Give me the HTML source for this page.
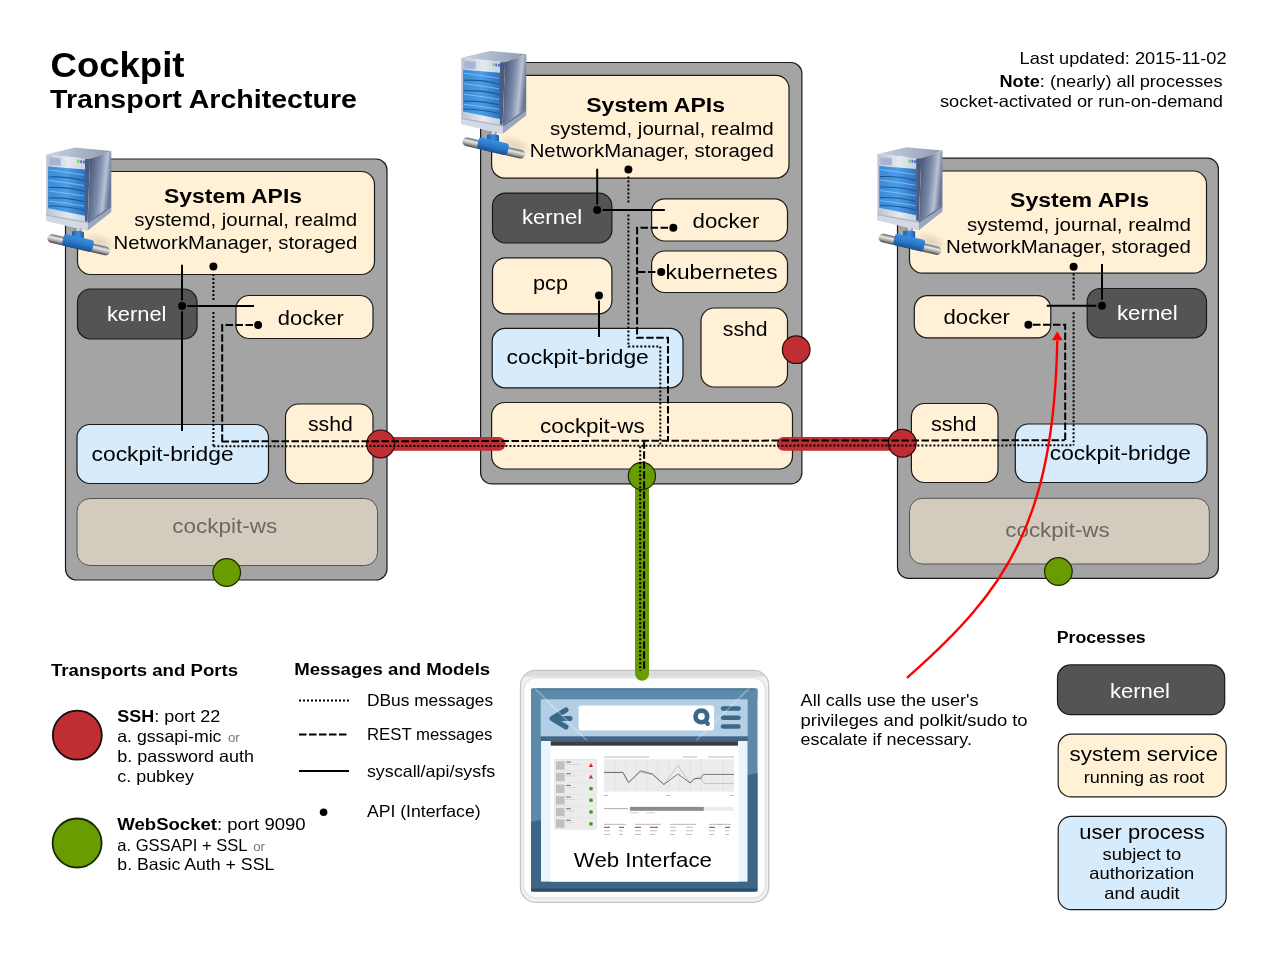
<!DOCTYPE html>
<html><head><meta charset="utf-8">
<style>
html,body{margin:0;padding:0;background:#fff;width:1280px;height:960px;overflow:hidden}
svg{display:block;will-change:transform}
text{font-family:"Liberation Sans",sans-serif;fill:#000}
.b{font-weight:bold}
.box{stroke:#1a1a1a;stroke-width:1.2}
.gray{fill:#a4a4a4}
.cream{fill:#fff0d6}
.blue{fill:#d6ebfc}
.dark{fill:#545454}
.beige{fill:#d3cbbe;stroke:#555}
.sl{stroke:#000;stroke-width:2;fill:none}
.dl{stroke:#000;stroke-width:2;fill:none;stroke-dasharray:7.5 2.5}
.ol{stroke:#000;stroke-width:2;fill:none;stroke-dasharray:2 2}
</style></head><body>
<svg width="1280" height="960" viewBox="0 0 1280 960">
<defs>
<linearGradient id="srvFront" x1="0" y1="0" x2="1" y2="0"><stop offset="0" stop-color="#3b8ad6"/><stop offset="0.5" stop-color="#4a9de6"/><stop offset="1" stop-color="#2c72c0"/></linearGradient>
<linearGradient id="srvSide" x1="0" y1="0" x2="1" y2="0.3"><stop offset="0" stop-color="#3a4868"/><stop offset="0.55" stop-color="#7d8cab"/><stop offset="0.8" stop-color="#b8c2d4"/><stop offset="1" stop-color="#6a7896"/></linearGradient>
<linearGradient id="srvTop" x1="0" y1="0" x2="1" y2="0"><stop offset="0" stop-color="#c9d3e0"/><stop offset="1" stop-color="#8d9bb0"/></linearGradient>
<linearGradient id="pipe" x1="0" y1="0" x2="0" y2="1"><stop offset="0" stop-color="#666"/><stop offset="0.35" stop-color="#e8e8e8"/><stop offset="0.7" stop-color="#a0a0a0"/><stop offset="1" stop-color="#444"/></linearGradient>
<radialGradient id="shadowG"><stop offset="0" stop-color="#000" stop-opacity="0.12"/><stop offset="1" stop-color="#000" stop-opacity="0"/></radialGradient>
<linearGradient id="srvFrontPanel" x1="0" y1="0" x2="1" y2="0"><stop offset="0" stop-color="#b9c3d2"/><stop offset="0.5" stop-color="#e6eaf0"/><stop offset="1" stop-color="#c0c8d6"/></linearGradient>
<linearGradient id="pipeV" x1="0" y1="0" x2="1" y2="0"><stop offset="0" stop-color="#777"/><stop offset="0.5" stop-color="#eee"/><stop offset="1" stop-color="#888"/></linearGradient>
<linearGradient id="blueV" x1="0" y1="0" x2="1" y2="0"><stop offset="0" stop-color="#1d5fa8"/><stop offset="0.5" stop-color="#3b8de0"/><stop offset="1" stop-color="#1e5ea6"/></linearGradient>
<linearGradient id="blueH" x1="0" y1="0" x2="0" y2="1"><stop offset="0" stop-color="#3a8ee0"/><stop offset="0.5" stop-color="#2c78c8"/><stop offset="1" stop-color="#1a5294"/></linearGradient>
<g id="server">
  <ellipse cx="60" cy="100" rx="18" ry="9" fill="url(#shadowG)" transform="rotate(20 60 100)"/>
  <!-- top -->
  <path d="M6.25 12.5 L35 5.6 L71.25 9 L50 16.9 Z" fill="url(#srvTop)"/>
  <!-- side -->
  <path d="M50 16.9 L71.25 9 L71.25 64 L47.5 80 Z" fill="url(#srvSide)"/>
  <path d="M47.5 80 L71.25 64 L71.25 70 L47.5 88.75 Z" fill="#9aa6bc"/>
  <path d="M47.5 80 L71.25 64 L71.25 65.2 L47.5 81.5 Z" fill="#5d6a86"/>
  <!-- front -->
  <path d="M6.25 12.5 L50 16.9 L47.5 88.75 L6.25 78.75 Z" fill="url(#srvFrontPanel)"/>
  <path d="M9.4 15.6 L20.6 16.4 L20.6 23.75 L9.4 23.1 Z" fill="#a9b3d6"/>
  <rect x="37.5" y="18" width="1.8" height="2.8" fill="#4cd64c"/><rect x="40.3" y="18.3" width="1.8" height="2.8" fill="#5566cc"/><rect x="43" y="18.6" width="1.8" height="2.8" fill="#5566cc"/>
  <path d="M8.1 24.4 L45 27.5 L45 73.75 L8.1 66.25 Z" fill="url(#srvFront)"/>
  <g stroke="#1d5a95" stroke-width="1.1" fill="none">
    <path d="M8.5 35 Q26 34 45 39"/><path d="M8.5 45.5 Q26 44.5 45 49.5"/><path d="M8.5 56 Q26 55 45 60"/><path d="M8.5 64 Q26 63.5 45 68.5"/>
  </g>
  <g stroke="#9fd0f8" stroke-width="0.8" fill="none" opacity="0.8">
    <path d="M9 28 Q26 30 44 33"/><path d="M9 38.5 Q26 40.5 44 43.5"/><path d="M9 49 Q26 51 44 54"/><path d="M9 59 Q26 61 44 64"/>
  </g>
  <path d="M6.25 72.5 L47.5 80 L47.5 88.75 L6.25 78.75 Z" fill="#d3d9e4"/>
  <path d="M6.25 72.5 L47.5 80 L47.5 81.2 L6.25 73.7 Z" fill="#aab4c6"/>
  <path d="M45 17 L50 16.9 L47.5 80 L45 79 Z" fill="#1f3566" opacity="0.75"/>
  <!-- pipe -->
  <g transform="rotate(13.1 9.4 96)"><rect x="7.5" y="91.6" width="64" height="8.6" rx="4.3" fill="url(#pipe)"/></g>
  <rect x="34.5" y="86.5" width="7" height="5" fill="url(#pipeV)"/>
  <path d="M32 89.5 Q38 88 44 90 L44 100 L32 98 Z" fill="url(#blueV)"/>
  <g transform="rotate(13.1 38 101)"><rect x="22.5" y="95" width="31" height="12" rx="3" fill="url(#blueH)"/></g>
</g>
</defs>

<!-- Title -->
<text x="50.5" y="76.5" class="b" font-size="35.6" textLength="134" lengthAdjust="spacingAndGlyphs">Cockpit</text>
<text x="50" y="108.1" class="b" font-size="25.1" textLength="307" lengthAdjust="spacingAndGlyphs">Transport Architecture</text>

<!-- top right note -->
<text x="1226.6" y="64" font-size="16.5" text-anchor="end" textLength="207" lengthAdjust="spacingAndGlyphs">Last updated: 2015-11-02</text>
<text x="999.5" y="87" font-size="16.5" textLength="223" lengthAdjust="spacingAndGlyphs"><tspan class="b">Note</tspan>: (nearly) all processes</text>
<text x="940" y="106.6" font-size="16.5" textLength="283" lengthAdjust="spacingAndGlyphs">socket-activated or run-on-demand</text>


<!-- ================= LEFT SERVER ================= -->
<rect x="65.5" y="159" width="321.5" height="421" rx="11" class="box gray"/>
<rect x="77.5" y="171.5" width="297" height="103" rx="13" class="box cream"/>
<text x="164" y="203" class="b" font-size="20" textLength="138" lengthAdjust="spacingAndGlyphs">System APIs</text>
<text x="134.2" y="226" font-size="18.5" textLength="223" lengthAdjust="spacingAndGlyphs">systemd, journal, realmd</text>
<text x="113.6" y="248.6" font-size="18.5" textLength="243.7" lengthAdjust="spacingAndGlyphs">NetworkManager, storaged</text>
<rect x="77.5" y="289" width="119.5" height="50" rx="13" class="box dark"/>
<text x="106.9" y="321" font-size="20.5" fill="#fff" style="fill:#fff" textLength="59.6" lengthAdjust="spacingAndGlyphs">kernel</text>
<rect x="236" y="295.5" width="137" height="43" rx="13" class="box cream"/>
<text x="277.8" y="325" font-size="20.5" textLength="66" lengthAdjust="spacingAndGlyphs">docker</text>
<rect x="77" y="424.5" width="191.5" height="59" rx="13" class="box blue"/>
<text x="91.6" y="460.5" font-size="20.5" textLength="142" lengthAdjust="spacingAndGlyphs">cockpit-bridge</text>
<rect x="285.5" y="404" width="87.5" height="79.5" rx="13" class="box cream"/>
<text x="308" y="431" font-size="20.5" textLength="44.8" lengthAdjust="spacingAndGlyphs">sshd</text>
<rect x="77" y="498.5" width="300.5" height="67" rx="13" class="beige" stroke-width="1"/>
<text x="172.3" y="532.7" font-size="20.5" style="fill:#6e6860" textLength="105" lengthAdjust="spacingAndGlyphs">cockpit-ws</text>
<circle cx="226.7" cy="572.5" r="13.8" fill="#689c00" stroke="#1c2a00" stroke-width="1.2"/>
<!-- left lines -->
<path d="M182 264.7 V300.5 M182 311.3 V431" class="sl"/>
<path d="M187.3 305.9 H254" class="sl"/>
<circle cx="182.1" cy="305.9" r="4"/>
<circle cx="213.4" cy="266.5" r="4"/>
<path d="M213.4 274 V301 M213.4 312 V446.3" class="ol"/>
<circle cx="258.1" cy="325" r="4"/>
<path d="M253 325 H222.2 V441.4" class="dl"/>
<use href="#server" x="40" y="142"/>

<!-- ================= CENTER SERVER ================= -->
<rect x="480.6" y="62.5" width="321.3" height="421.3" rx="11" class="box gray"/>
<rect x="491.6" y="75.3" width="297.4" height="102.8" rx="13" class="box cream"/>
<text x="586.2" y="111.9" class="b" font-size="20" textLength="138.8" lengthAdjust="spacingAndGlyphs">System APIs</text>
<text x="550" y="134.7" font-size="18.5" textLength="223.7" lengthAdjust="spacingAndGlyphs">systemd, journal, realmd</text>
<text x="529.7" y="156.6" font-size="18.5" textLength="244" lengthAdjust="spacingAndGlyphs">NetworkManager, storaged</text>
<rect x="492.5" y="193.1" width="119.4" height="49.9" rx="13" class="box dark"/>
<text x="521.9" y="224.4" font-size="20.5" style="fill:#fff" textLength="60.3" lengthAdjust="spacingAndGlyphs">kernel</text>
<rect x="651.6" y="198.8" width="135.9" height="42.2" rx="13" class="box cream"/>
<text x="692.5" y="227.5" font-size="20.5" textLength="66.9" lengthAdjust="spacingAndGlyphs">docker</text>
<rect x="651.6" y="251" width="135.9" height="41.5" rx="13" class="box cream"/>
<text x="665.6" y="279" font-size="20.5" textLength="111.9" lengthAdjust="spacingAndGlyphs">kubernetes</text>
<rect x="492.5" y="257.8" width="119.4" height="56" rx="13" class="box cream"/>
<text x="533" y="290" font-size="20.5" textLength="35" lengthAdjust="spacingAndGlyphs">pcp</text>
<rect x="701" y="308" width="86.5" height="79" rx="13" class="box cream"/>
<text x="722.8" y="335.6" font-size="20.5" textLength="44.7" lengthAdjust="spacingAndGlyphs">sshd</text>
<circle cx="796.2" cy="349.7" r="13.8" fill="#bf2e32" stroke="#2a0a0a" stroke-width="1.2"/>
<rect x="492.2" y="328.4" width="190.8" height="59.4" rx="13" class="box blue"/>
<text x="506.6" y="364.4" font-size="20.5" textLength="142.2" lengthAdjust="spacingAndGlyphs">cockpit-bridge</text>
<rect x="491.6" y="402.5" width="300.9" height="66.5" rx="13" class="box cream"/>
<text x="540" y="432.5" font-size="20.5" textLength="104.7" lengthAdjust="spacingAndGlyphs">cockpit-ws</text>
<!-- center lines -->
<path d="M597.2 168.7 V204.5 M602.6 210 H664.8" class="sl"/>
<circle cx="597.2" cy="210" r="4"/>
<circle cx="628.4" cy="169.5" r="4"/>
<path d="M628.4 176.5 V203.7 M628.4 214.5 V346.6 H660.3 V445.9" class="ol"/>
<circle cx="673.3" cy="227.8" r="4"/>
<path d="M668 227.8 H637.1 V337.8 H668 V441.3" class="dl"/>
<circle cx="661.2" cy="272" r="4"/>
<path d="M655.5 272 H637.1" class="dl"/>
<circle cx="599" cy="295.6" r="4"/>
<path d="M599 300.5 V337" class="sl"/>
<use href="#server" x="455" y="45.3"/>

<!-- ================= RIGHT SERVER ================= -->
<rect x="897.5" y="158.2" width="320.9" height="420.1" rx="11" class="box gray"/>
<rect x="909.5" y="171" width="297" height="102.2" rx="13" class="box cream"/>
<text x="1010" y="207" class="b" font-size="20" textLength="139" lengthAdjust="spacingAndGlyphs">System APIs</text>
<text x="967" y="231" font-size="18.5" textLength="224" lengthAdjust="spacingAndGlyphs">systemd, journal, realmd</text>
<text x="945.9" y="252.6" font-size="18.5" textLength="245" lengthAdjust="spacingAndGlyphs">NetworkManager, storaged</text>
<rect x="914.3" y="295.7" width="136.5" height="42.1" rx="13" class="box cream"/>
<text x="943.5" y="324.4" font-size="20.5" textLength="66.5" lengthAdjust="spacingAndGlyphs">docker</text>
<rect x="1087.2" y="288.5" width="119.3" height="49.3" rx="13" class="box dark"/>
<text x="1116.9" y="319.6" font-size="20.5" style="fill:#fff" textLength="60.8" lengthAdjust="spacingAndGlyphs">kernel</text>
<rect x="911.4" y="403.5" width="86.6" height="79" rx="13" class="box cream"/>
<text x="931" y="430.8" font-size="20.5" textLength="45.5" lengthAdjust="spacingAndGlyphs">sshd</text>
<rect x="1015.3" y="424" width="191.7" height="58.5" rx="13" class="box blue"/>
<text x="1049.8" y="459.5" font-size="20.5" textLength="141.2" lengthAdjust="spacingAndGlyphs">cockpit-bridge</text>
<rect x="909.5" y="498.3" width="299.8" height="65.7" rx="13" class="beige" stroke-width="1"/>
<text x="1005.3" y="536.6" font-size="20.5" style="fill:#6e6860" textLength="104.4" lengthAdjust="spacingAndGlyphs">cockpit-ws</text>
<circle cx="1058.4" cy="571.5" r="13.8" fill="#689c00" stroke="#1c2a00" stroke-width="1.2"/>
<!-- right lines -->
<path d="M1102 264 V299.7 M1096.4 305.8 H1046.7" class="sl"/>
<circle cx="1102" cy="305.8" r="4"/>
<circle cx="1073.6" cy="266.7" r="4"/>
<path d="M1073.6 273.5 V301 M1073.6 312.3 V445.3" class="ol"/>
<circle cx="1028.4" cy="324.7" r="4"/>
<path d="M1033 324.7 H1065.2 V440.2" class="dl"/>
<use href="#server" x="871.2" y="141.6"/>

<!-- ================= CONNECTIONS ================= -->
<path d="M380.6 443.8 H498.8" stroke="#bf2e32" stroke-width="13.7" stroke-linecap="round"/>
<circle cx="380.6" cy="443.9" r="13.9" fill="#bf2e32" stroke="#2a0a0a" stroke-width="1.2"/>
<path d="M783.6 443.8 H902.3" stroke="#bf2e32" stroke-width="13.7" stroke-linecap="round"/>
<circle cx="902.3" cy="443.2" r="13.9" fill="#bf2e32" stroke="#2a0a0a" stroke-width="1.2"/>
<path d="M221.5 441.4 L1064.7 440.2" class="dl"/>
<path d="M213.4 446.3 L1073.8 445.3" class="ol"/>

<!-- ================= WEB INTERFACE ================= -->
<g id="webif">
<rect x="520.5" y="670.5" width="248.2" height="231.8" rx="15" fill="#f1f1f3" stroke="#c4c4c6" stroke-width="1.3"/>
<clipPath id="frameClip"><rect x="521" y="671" width="247.2" height="230.8" rx="14.5"/></clipPath>
<rect x="520" y="670" width="250" height="6.8" fill="#dcdcde" clip-path="url(#frameClip)"/>
<rect x="523.8" y="677.8" width="241.6" height="220" rx="12" fill="#fdfdfd" stroke="#e0e0e2" stroke-width="1.2"/>
<rect x="531" y="688.5" width="226.5" height="203" rx="3" fill="#5d8aaa"/>
<path d="M531 822 L757.5 773 V888.5 Q757.5 891.5 754.5 891.5 H534 Q531 891.5 531 888.5 Z" fill="#3d6686"/>
<path d="M531 888.5 H757.5 V891.5 H531 Z" fill="#2c4d68"/>
<rect x="531" y="688.5" width="226.5" height="10" fill="#5d8aaa"/>
<rect x="533" y="688.5" width="222.5" height="1.2" fill="#46708f"/>
<rect x="540.7" y="699.3" width="207" height="37.2" fill="#b3cfe6"/>
<rect x="540.7" y="736.5" width="207" height="5" fill="#3e6788"/>
<rect x="541" y="741" width="206.5" height="140.6" fill="#eaf4fb"/>
<rect x="550.5" y="741" width="188" height="140.6" fill="#fff"/>
<rect x="550.7" y="741.2" width="187.3" height="4.5" fill="#3a3f46"/>
<path d="M566 710 L552 718.5 L566 727 M553 718.5 H570" stroke="#3c6888" stroke-width="5" stroke-linecap="round" stroke-linejoin="round" fill="none"/>
<rect x="578.6" y="705.4" width="135.5" height="25" rx="3" fill="#fff"/>
<circle cx="701.4" cy="716.4" r="5.8" fill="none" stroke="#3c6888" stroke-width="4.8"/>
<path d="M705.5 721 L707.8 723.8" stroke="#3c6888" stroke-width="4.2" stroke-linecap="round"/>
<g stroke="#3c6888" stroke-width="4.5" stroke-linecap="round"><path d="M723 708.5 H738.5"/><path d="M723 717.7 H738.5"/><path d="M723 726.4 H738.5"/></g>
<path d="M535 688.5 L587 740.5" stroke="#fff" stroke-width="1.6" opacity="0.3"/>
<path d="M749 688.5 L696 740.5" stroke="#fff" stroke-width="1.6" opacity="0.3"/>
<!-- mini dashboard -->
<rect x="550.9" y="740.8" width="187.3" height="0.8" fill="#a03030"/>
<rect x="554.4" y="759.3" width="42.2" height="70" fill="#ececec" stroke="#dedede" stroke-width="0.5"/>
<g stroke="#dcdcdc" stroke-width="0.4"><path d="M554.4 771 H596.6 M554.4 782.6 H596.6 M554.4 794.3 H596.6 M554.4 806 H596.6 M554.4 817.6 H596.6"/></g>
<g fill="#c1c1bc">
<rect x="556" y="761.2" width="8.6" height="8.4"/><rect x="556" y="772.8" width="8.6" height="8.4"/><rect x="556" y="784.5" width="8.6" height="8.4"/><rect x="556" y="796.1" width="8.6" height="8.4"/><rect x="556" y="807.8" width="8.6" height="8.4"/><rect x="556" y="819.4" width="8.6" height="8.4"/>
</g>
<g fill="#777"><rect x="566" y="761.6" width="5" height="1"/><rect x="566" y="773.2" width="5" height="1"/><rect x="566" y="784.9" width="5" height="1"/><rect x="566" y="796.5" width="5" height="1"/><rect x="566" y="808.2" width="5" height="1"/><rect x="566" y="819.8" width="5" height="1"/></g>
<g fill="#d4d4d4"><rect x="566" y="764" width="14" height="0.9"/><rect x="566" y="775.6" width="9" height="0.9"/><rect x="566" y="787.3" width="11" height="0.9"/><rect x="566" y="798.9" width="9" height="0.9"/><rect x="566" y="810.6" width="8" height="0.9"/><rect x="566" y="822.2" width="8" height="0.9"/></g>
<path d="M590.9 762.9 L593 766.9 H588.8 Z" fill="#e02525"/><path d="M590.9 774.6 L593 778.6 H588.8 Z" fill="#e02525"/>
<g fill="#3fa010"><circle cx="591" cy="788.6" r="1.9"/><circle cx="591" cy="800.2" r="1.9"/><circle cx="591" cy="811.9" r="1.9"/><circle cx="591" cy="823.8" r="1.9"/></g>
<g fill="#aaa"><rect x="604" y="756.6" width="45" height="0.8"/><rect x="683" y="756.6" width="14" height="0.8"/><rect x="708" y="756.6" width="26" height="0.8"/></g>
<rect x="603.9" y="759.3" width="130" height="32.3" fill="#ececec"/>
<g stroke="#d8d8d8" stroke-width="0.4"><path d="M614.8 759.3 V791.6 M625.6 759.3 V791.6 M636.4 759.3 V791.6 M647.2 759.3 V791.6 M658 759.3 V791.6 M668.8 759.3 V791.6 M679.6 759.3 V791.6 M690.4 759.3 V791.6 M701.2 759.3 V791.6 M712 759.3 V791.6 M722.8 759.3 V791.6"/></g>
<path d="M604 772.6 H622.9 L628.6 782.6 L640.4 772.2 L652.4 774.5 L663.9 784.5 L677.8 765.4 L690.1 782.9 L699.1 776.3 L704 783.4 H733.9" stroke="#9a9a9a" stroke-width="0.5" fill="none"/>
<path d="M604 772.4 H622.9 L628.6 782.6 L640.4 770.8 L652.4 774 L663.9 784.5 L677.8 774 L690.1 782.9 L694.2 778.5 L700.8 778.5 L703.2 774.4 H733.9" stroke="#555" stroke-width="0.8" fill="none"/>
<g fill="#aaa"><rect x="604" y="795" width="4" height="0.8"/><rect x="666.5" y="795" width="4" height="0.8"/><rect x="729.5" y="795" width="4" height="0.8"/></g>
<rect x="604" y="808.3" width="24" height="0.8" fill="#999"/>
<rect x="629.9" y="806.9" width="104" height="3.9" fill="#ececec"/>
<rect x="629.9" y="806.9" width="73.8" height="3.9" fill="#8c8c89"/>
<g fill="#bbb"><rect x="629.5" y="812.5" width="9" height="0.7"/><rect x="646" y="812.5" width="9" height="0.7"/></g>
<g fill="#888"><rect x="604" y="823.9" width="22" height="0.6"/><rect x="635" y="823.9" width="26" height="0.6"/><rect x="670" y="823.9" width="26" height="0.6"/><rect x="709" y="823.9" width="22" height="0.6"/></g>
<g fill="#e03030"><rect x="604" y="826.8" width="6" height="1.1"/><rect x="619" y="826.8" width="5" height="1.1"/><rect x="635" y="826.8" width="6" height="1.1"/><rect x="650" y="826.8" width="8" height="1.1"/><rect x="709" y="826.8" width="6" height="1.1"/><rect x="725" y="826.8" width="5" height="1.1"/></g>
<g fill="#b0b0b0"><rect x="604" y="830.4" width="6" height="0.8"/><rect x="619" y="830.4" width="4" height="0.8"/><rect x="635" y="830.4" width="6" height="0.8"/><rect x="650" y="830.4" width="7" height="0.8"/><rect x="670" y="826.8" width="6" height="0.8"/><rect x="686" y="826.8" width="7" height="0.8"/><rect x="670" y="830.4" width="6" height="0.8"/><rect x="686" y="830.4" width="7" height="0.8"/><rect x="709" y="830.4" width="6" height="0.8"/><rect x="725" y="830.4" width="4" height="0.8"/>
<rect x="604" y="834" width="6" height="0.8"/><rect x="619" y="834" width="4" height="0.8"/><rect x="635" y="834" width="6" height="0.8"/><rect x="650" y="834" width="5" height="0.8"/><rect x="670" y="834" width="5" height="0.8"/><rect x="686" y="834" width="6" height="0.8"/><rect x="709" y="834" width="5" height="0.8"/><rect x="725" y="834" width="4" height="0.8"/></g>
<text x="573.8" y="867.1" font-size="21" textLength="138.1" lengthAdjust="spacingAndGlyphs">Web Interface</text>
</g>

<path d="M642 476 V673.7" stroke="#689c00" stroke-width="14" stroke-linecap="round"/>
<circle cx="641.9" cy="476" r="13.6" fill="#689c00" stroke="#1c2a00" stroke-width="1.2"/>
<path d="M644.1 441.3 V670" class="dl"/>
<path d="M640.2 446.2 V671" class="ol"/>

<!-- ================= LEGEND ================= -->
<text x="51" y="675.6" class="b" font-size="16" textLength="187" lengthAdjust="spacingAndGlyphs">Transports and Ports</text>
<text x="294.2" y="674.5" class="b" font-size="16" textLength="196" lengthAdjust="spacingAndGlyphs">Messages and Models</text>
<circle cx="77.3" cy="735.2" r="24.5" fill="#bf2e32" stroke="#1a0a0a" stroke-width="1.8"/>
<circle cx="77.1" cy="843" r="24.5" fill="#689c00" stroke="#1a2a00" stroke-width="1.8"/>
<text x="117.3" y="722.3" font-size="16.5" textLength="103" lengthAdjust="spacingAndGlyphs"><tspan class="b">SSH</tspan>: port 22</text>
<text x="117.3" y="742.2" font-size="16.5" textLength="104.1" lengthAdjust="spacingAndGlyphs">a. gssapi-mic</text><text x="227.9" y="742.2" font-size="12" style="fill:#777" textLength="11.9" lengthAdjust="spacingAndGlyphs">or</text>
<text x="117.3" y="761.7" font-size="16.5" textLength="136.7" lengthAdjust="spacingAndGlyphs">b. password auth</text>
<text x="117.3" y="781.6" font-size="16.5" textLength="76.6" lengthAdjust="spacingAndGlyphs">c. pubkey</text>
<text x="117.3" y="830.3" font-size="16.5" textLength="188.4" lengthAdjust="spacingAndGlyphs"><tspan class="b">WebSocket</tspan>: port 9090</text>
<text x="117.3" y="850.6" font-size="16.5" textLength="130.2" lengthAdjust="spacingAndGlyphs">a. GSSAPI + SSL</text><text x="253.2" y="850.6" font-size="12" style="fill:#777" textLength="11.8" lengthAdjust="spacingAndGlyphs">or</text>
<text x="117.3" y="869.7" font-size="16.5" textLength="157" lengthAdjust="spacingAndGlyphs">b. Basic Auth + SSL</text>
<path d="M299 700.5 H349" class="ol"/>
<path d="M299 734.6 H349" class="dl"/>
<path d="M299 771 H349" class="sl"/>
<circle cx="323.6" cy="812.3" r="3.8"/>
<text x="366.9" y="705.8" font-size="16.5" textLength="126.3" lengthAdjust="spacingAndGlyphs">DBus messages</text>
<text x="366.9" y="740.3" font-size="16.5" textLength="125.6" lengthAdjust="spacingAndGlyphs">REST messages</text>
<text x="366.9" y="776.7" font-size="16.5" textLength="128.3" lengthAdjust="spacingAndGlyphs">syscall/api/sysfs</text>
<text x="366.9" y="816.9" font-size="16.5" textLength="113.7" lengthAdjust="spacingAndGlyphs">API (Interface)</text>

<!-- ================= NOTE + ARROW ================= -->
<text x="800.6" y="705.7" font-size="16.5" textLength="178" lengthAdjust="spacingAndGlyphs">All calls use the user's</text>
<text x="800.6" y="725.6" font-size="16.5" textLength="227" lengthAdjust="spacingAndGlyphs">privileges and polkit/sudo to</text>
<text x="800.6" y="745.1" font-size="16.5" textLength="171.4" lengthAdjust="spacingAndGlyphs">escalate if necessary.</text>
<path d="M907 677.8 C1008.5 589.1 1053.6 519.4 1057.3 340.5" stroke="#f00" stroke-width="2.4" fill="none"/>
<path d="M1057.2 331.8 L1052.4 340 L1062.2 340 Z" fill="#f00" stroke="#f00" stroke-width="0.5" stroke-linejoin="round"/>

<!-- ================= PROCESSES ================= -->
<text x="1056.7" y="643" class="b" font-size="16" textLength="89" lengthAdjust="spacingAndGlyphs">Processes</text>
<rect x="1057.5" y="664.9" width="167.2" height="49.8" rx="13" class="box dark"/>
<text x="1110" y="697.5" font-size="20.5" style="fill:#fff" textLength="60" lengthAdjust="spacingAndGlyphs">kernel</text>
<rect x="1058.2" y="734.2" width="168" height="62.7" rx="13" class="box cream"/>
<text x="1069.5" y="761.2" font-size="20.5" textLength="148.5" lengthAdjust="spacingAndGlyphs">system service</text>
<text x="1083.7" y="782.6" font-size="16.5" textLength="120.7" lengthAdjust="spacingAndGlyphs">running as root</text>
<rect x="1058.2" y="816.3" width="168" height="93.4" rx="13" class="box blue"/>
<text x="1079.2" y="838.8" font-size="20.5" textLength="125.6" lengthAdjust="spacingAndGlyphs">user process</text>
<text x="1102.5" y="859.5" font-size="16.5" textLength="78.7" lengthAdjust="spacingAndGlyphs">subject to</text>
<text x="1089.3" y="879.3" font-size="16.5" textLength="105" lengthAdjust="spacingAndGlyphs">authorization</text>
<text x="1104.3" y="898.8" font-size="16.5" textLength="75.4" lengthAdjust="spacingAndGlyphs">and audit</text>

</svg>
</body></html>
